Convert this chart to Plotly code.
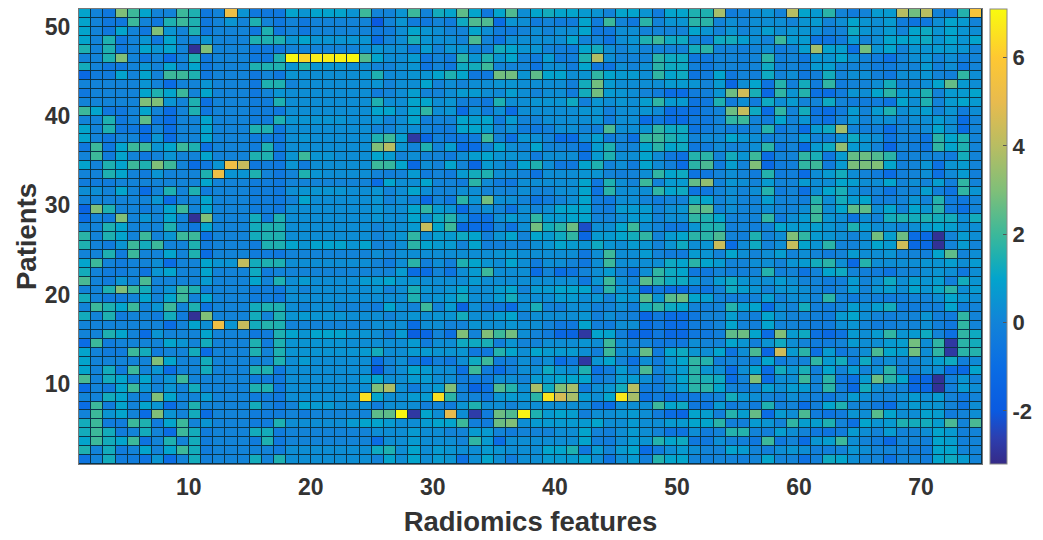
import plotly.graph_objects as go

x_edges = list(range(1, 76))
y_edges = list(range(1, 53))
x_ticks = [10, 20, 30, 40, 50, 60, 70]
y_ticks = [10, 20, 30, 40, 50]
cbar_ticks = [-2, 0, 2, 4, 6]
cbar_labels = ["-2", "0", "2", "4", "6"]
z_min, z_max = -3.2, 7.1
color_levels = [-3.2, -2.6, -2, -1, -.5, 0, 1, 1.5, 2, 3, 4, 5, 6, 7.1]
color_hexes = ["#352a87", "#2c3fb0", "#0a5ae0", "#0a6de4", "#0f78de", "#1283d8", "#03a4cc", "#1eb0b0",
               "#3cb89a", "#80bf78", "#b8bd62", "#e8bb4e", "#fec832", "#f9fb0e"]

p51 = [1,0,-.5,3,2,1,0,0,2,1.5,-.5,0,5.3,.5,-.5,-.5,-.5,1,.5,1,1,1,.5,2,0,
       0,.5,2,0,1.3,1,2.5,1,-.5,1,2.3,.3,1,1.3,1,1,.7,.5,0,1,1,.5,-.3,1,1,1.5,
       1.5,3.7,-.3,0,.3,.5,0,4,1,.7,1.7,0,-.3,0,.7,.7,4,2.8,4,0,-.3,1.6,5.7]
p50 = [1,0,-.5,-.5,2,0,-.5,1.5,2,1.5,-.5,0,.5,0,1.5,0,-.5,0,-.5,0,0,0,0,0,-2,
       0,.5,-.3,-.5,0,-.3,1.2,2.3,2.3,-1,.5,.3,-.3,0,-.3,-.3,1,-.3,2,0,-.5,1.7,0,.5,.5,1.7,
       1.7,0,.3,0,.3,.3,.3,0,.5,.7,0,.3,1,.5,.3,.7,-.3,-.7,-.5,.3,1,.7,0]
p49 = [1,0,-.5,1,0,-.5,3,.5,0,1.5,-.5,0,0,0,-.5,1.5,-.5,0,-.5,0,0,0,0,0,-.5,
       -.3,.3,1,.5,.3,0,0,1,.3,-.3,-.3,0,.3,0,.3,.3,1,-.5,-.5,.3,.3,0,0,0,0,1,
       .5,0,.5,0,.3,.8,.3,.5,.5,.3,-.2,0,1.2,.5,.3,.7,0,1,1.2,.5,1,.5,.3]
p48 = [1,0,1.5,-.5,0,.5,-.5,1,0,0,.5,0,0,0,1.5,1.5,1.5,.5,1,.5,.5,.5,.5,.5,-1,
       0,.3,1.4,.5,.3,.3,0,2.2,0,-.7,.3,.3,.3,.3,.3,1,0,0,-.7,.3,.5,1.5,2,1.2,1.2,0,
       -.3,1.2,1.3,.8,.3,0,2,.7,.7,-.7,-.7,-.3,.7,0,.3,1,1,1,1.2,.5,1,.5,1]
p47 = [1.5,0,1.5,-.5,0,1,.5,1,0,-3,3,0,0,0,-.5,-.5,-.5,0,0,0,0,0,0,.3,.5,
       .3,.3,-.3,.7,0,.5,.5,-.2,-.2,1.3,1,.5,.5,0,-.2,-.3,1,1.3,.3,0,.3,0,0,0,0,1.3,
       1.7,0,0,-.2,0,.3,-.3,0,.8,3.6,.9,.8,-.8,2.8,.5,1,0,.5,.5,.7,.7,.5,0]
p46 = [0,0,1.5,3,0,-.5,0,-1,0,1.5,-.5,0,0,0,-.5,-.5,1.5,7,6.3,6.8,6.8,6.9,7,2.3,1,
       .3,.3,.7,-.5,0,-.3,1.7,.5,1.5,.5,1,0,-.3,.7,-.3,-.2,1.5,3.9,.3,0,0,0,1.7,1.2,1.2,-.5,
       -.5,0,0,-.2,0,1.7,-.2,0,-.5,.5,.5,1,.3,0,-.3,-.8,0,.3,.5,0,.3,-.2,0]
p45 = [1.3,0,-.5,-.5,0,.5,0,1,0,1,-.5,0,0,0,1.5,1.5,1.5,.5,1.5,.5,.5,.5,.3,.3,0,
       0,.3,.5,-.7,0,-.5,1.2,1.3,2,0,0,0,-.7,.3,.3,-.3,1,-.5,-.7,.3,0,.3,1.7,1.2,1.2,-.2,
       -.5,0,0,-.2,0,1.2,-.2,0,-.3,.7,.8,0,0,0,-.3,-.3,0,0,.7,-.2,.3,-.6,0]
p44 = [-1.2,-.3,-.3,1,0,1,0,2,2,1.5,-.5,0,0,0,-.5,0,-.5,.5,.3,.3,.3,.3,.3,.5,1.5,
       .2,.3,.5,.5,1,1.5,1,-.5,-.5,2.8,2.8,.5,2.5,1,1,.3,.5,1.8,1,.7,.7,.3,1.8,1,1.2,-.7,
       -.3,1,-.5,0,-.2,1.2,0,.3,-.5,-.2,1.3,0,.3,.3,-.2,-.5,.3,.3,.5,0,-.2,1.8,.3]
p43 = [0,0,0,0,0,.5,0,-1,0,0,.5,0,0,0,-.5,1.5,1.5,0,.3,.3,.3,.3,.3,.3,.5,
       0,.3,.3,1,0,.3,0,.3,.3,.5,.5,.3,.3,.3,.3,-.2,1.3,2.8,.7,.3,.3,.3,.3,.7,.7,.5,
       0,.7,-1.3,.3,1,-.7,1.6,-.2,1.3,-.3,1.8,-.3,0,0,.3,1.3,0,0,.3,1,2.6,.7,.3]
p42 = [-.5,0,0,0,0,1,1.5,1,2,0,1,0,0,0,-.5,0,.5,.3,.3,.3,.3,.3,.3,.3,-.3,
       0,.3,.8,0,0,.3,.7,.7,.3,.2,.8,.3,0,.3,.3,-.3,1.3,2.8,.7,.5,.3,0,-.3,-1,-1,-.3,
       -.2,.5,2.7,4.5,1.4,-1.2,1.8,.5,1.6,-.8,-1,-.3,.5,.3,1,1.7,.7,.7,1.5,0,.7,.7,1]
p41 = [0,0,0,0,0,3,3,.5,0,1.5,-.8,0,0,0,-.3,-.3,1.5,.3,.3,.3,.3,.3,.3,.3,1.5,
       .3,.3,1,1,.3,.5,-.2,-.2,-.5,1.5,.3,.3,.5,.5,.5,1.2,-.2,.5,.3,.5,.3,.8,1.8,.7,.7,-.7,
       -.5,1.5,-.3,.3,-.3,1.2,.3,.7,0,0,1.2,0,-.3,-.3,-.3,-.7,1,.3,1.5,0,.7,1,.7]
p40 = [2,1,-.5,-.5,0,1,0,-1,0,1.5,-.5,0,0,0,-.3,-.3,-.5,.3,.3,.3,.3,.3,.3,.3,1,
       1,.3,1,1.8,.3,.5,-1,.3,-.3,.3,-1,.3,.3,.3,.3,.3,.5,.5,-.2,.3,.3,.5,.2,-1,-.8,-.8,
       -.3,0,2.7,4.3,1.2,-1,1.8,0,1.3,-.7,-1,-.3,.7,0,.7,1.5,.3,.5,.8,0,.5,-.3,.3]
p39 = [0,0,1.5,-.5,0,2.5,-.5,-1,0,0,1,0,0,0,-.3,-.3,1.5,.5,.5,.5,.5,.5,.3,.3,.5,
       0,.3,1,-.2,0,0,1,.8,1,-.3,.7,0,0,.3,.3,.3,.3,.5,-.3,.3,.3,-1,-.5,-1,-1,-.5,
       -.5,0,1.8,2,0,-.3,1,0,.5,-.5,-.8,0,.5,0,.3,.3,0,.3,.3,.7,.3,-1,0]
p38 = [1,0,1.5,-.5,-.5,-1,0,-1,0,0,1,0,0,0,1.5,1.5,-.5,.3,.3,.3,.3,.3,.3,.3,0,
       0,.3,.3,0,-.3,-.3,1,1,.8,0,.3,-.3,-.5,-.2,.3,.3,0,-.2,2.2,.3,.3,.5,1.8,1.2,1.2,-.7,
       -.3,0,-.2,-.2,0,1.6,-.5,0,-1,.7,1.2,3.6,0,-.2,-.2,-1,0,0,.2,1,.3,-1,0]
p37 = [1,0,-.5,0,0,-1,.5,-1,0,0,1,0,0,0,-.3,-.3,-.5,.3,.5,.3,.3,.3,.3,.3,1.5,
       2,.8,-2.8,-1.3,-.2,-.5,-.5,-.3,2,0,-.8,.5,.3,0,-1,-1,.3,.8,-.3,0,-.8,1.8,2,1.5,1.2,0,
       .2,.2,1,.5,.3,-.2,0,0,.7,0,-.2,.3,1.2,.5,.3,-.7,0,-.2,-.7,1.7,1,1.5,0]
p36 = [-.5,2,-.5,1,2,2,.5,1,2,1.5,-.8,0,0,0,-.3,1.5,-.5,.3,.3,.3,.3,.3,.3,.3,3,
       4,.5,0,1.5,0,.8,-1,-1,0,1,.3,0,1,0,0,-.2,-.8,.8,1.5,0,0,1,1.7,1,1.2,-.5,
       -.3,.2,0,0,.3,1.7,-.5,0,-1.2,.7,1.2,3.3,.7,.5,0,-1.3,0,-.3,-.7,1.8,1,1.5,0]
p35 = [0,2,-.3,1,0,-.5,0,.5,0,0,1,0,0,0,1.5,1.5,-.5,.5,2,.5,.5,.3,.3,.3,1,
       .7,0,.3,0,0,-.3,.3,.8,1,.5,.5,.3,-.3,.3,.3,.3,-.8,.7,1.5,.3,.3,1,.2,-.5,-.8,1.6,
       1.7,0,1.3,.5,2,-1,0,0,1.8,1.4,-.5,.7,2.6,2.7,2.3,1.7,-.2,0,0,0,-.3,1.3,0]
p34 = [1,0,1.5,1,2,1.5,3,2,0,-1,-.5,.5,5.3,4.3,-.5,-.3,-.5,.5,-.3,.3,.3,.3,.3,.3,2,
       1.9,1,-1.2,.3,0,1,0,-1.3,.7,.3,-.2,1,1.5,.3,-.5,-.5,1,1.5,0,.3,-.3,1,.2,-.2,-1,1.7,
       2.2,-.3,.8,0,3,-1.2,-.3,-.2,1.8,2,-.3,.7,2.9,2.9,3,1,-.2,0,.5,-.8,.5,.7,0]
p33 = [0,0,1.5,1,0,-.3,.5,0,0,0,1.5,5.3,.5,.5,1.5,0,-.5,0,1.5,.5,.3,.3,.3,.3,0,
       -.2,0,.7,-.3,0,-.3,.7,1.3,1.5,.3,.3,0,-.7,.3,.3,.3,.5,.5,0,-.2,0,.3,1.8,1,1.2,-.7,
       -.5,0,.3,0,-.3,1.6,-.3,-.2,-1,.3,.7,1.3,.3,0,-.3,-1,-.2,0,.3,-.8,.2,.7,-.2]
p32 = [-.3,-.3,-.3,0,0,0,0,0,0,0,1,0,0,0,-.3,-.3,-.5,0,0,0,0,0,0,0,-1,
       1,.3,.3,1,0,0,-.3,1.7,.2,-.3,-.5,.3,.3,.3,.3,.3,1,-.5,1.5,.3,0,2,0,.7,.7,2.6,
       3.3,0,.5,.3,0,.7,0,0,.7,.3,.3,1,.8,.3,.3,1,0,.3,0,.8,-.2,1.8,0]
p31 = [.3,.3,0,1,0,-1,0,1.5,0,1.5,-.3,0,0,0,-.3,-.3,-.5,.3,.5,.5,.5,.5,.3,.3,.5,
       0,.3,1,.3,0,0,.3,.3,0,0,0,.3,0,0,.3,.3,1,-.7,1.7,.3,.3,.3,1.8,1,1.2,-.7,
       -.5,0,.3,0,.3,1.6,-.3,0,-.8,.3,1,1.4,.3,0,0,-.7,0,0,.8,-.2,-.7,1.8,.5]
p30 = [0,0,0,0,0,0,.5,-1,0,0,1,0,0,0,-.3,-.3,-.5,0,1,.3,.3,.3,.3,.3,.5,
       0,.3,0,-1.2,0,-.5,1.7,.5,2.8,.3,.3,0,-.7,-.3,0,.3,1,-.3,-.5,.3,.3,0,-.3,0,0,1.3,
       1,0,.3,0,0,.8,0,0,-.2,1.6,.3,1.3,.7,1,-.2,-.2,0,.5,0,1.6,-.3,-.5,0]
p29 = [-1.5,3,1.5,0,0,-.3,0,1,2,0,1,0,0,0,-.3,-.3,-.5,.3,.3,.3,.3,.3,.3,.3,.5,
       .3,.3,1,1.8,.7,.5,-1,0,.3,0,-.7,.3,0,.3,1,1,1,-.2,-.3,.7,.7,.7,0,.3,.5,2.4,
       2.5,0,.3,0,0,.3,0,0,.3,2,.3,1,2.5,2.5,.3,1,0,1,.5,1.7,-.3,-.8,0]
p28 = [-1,0,-.3,3,0,.5,0,1,0,-3,3,0,0,0,1.3,-.3,1.5,.3,.3,.3,.3,.3,.3,.3,.5,
       .3,.3,1,.3,1.2,1.6,.3,-.8,-.8,.3,.7,.3,1.8,.7,.7,1,1,0,0,.3,.7,.7,0,.3,.3,1.8,
       1.5,1,0,0,0,1.8,-.3,.3,.7,2,.5,.3,-.7,.3,0,1.3,1.5,1.3,1.5,1.3,1.3,.3,1.3]
p27 = [0,0,1.5,1,0,0,0,1.5,0,-.5,1,0,0,0,1.3,1.5,1.5,.3,.3,.3,.3,.3,.3,.3,0,
       .3,.3,.7,4.3,1,2,-1.2,-1,-1.1,0,-.7,.3,2.8,1.3,1.7,2.7,-2.3,.3,.3,1,2,.3,0,-.5,-.5,.5,
       1.5,1.5,-.2,0,-.2,0,1,.7,.7,.8,.5,.3,1.5,.7,.3,.3,0,.3,.7,1,.8,.3,.3]
p26 = [1.7,0,1.5,1,0,2,0,.5,2,2,-.8,0,0,0,1.3,1.5,1.5,.3,.3,.3,.3,.3,.3,.3,0,
       .3,.5,1.8,.3,.8,.7,1.2,1,-.2,.5,1,0,1,.7,1.2,1.8,-1.3,.7,.7,1,1.3,1.8,0,.7,1,1.7,
       1.7,2.2,0,-.2,1.5,0,.3,3,1.8,.7,.5,.3,0,.3,2.8,.8,2.7,-1,-1.2,-3,0,.7,.3]
p25 = [1.5,0,-.3,.5,2,1.3,2,0,0,1.5,-.3,0,0,0,-.3,1.5,1.5,1,.5,1,1,1,.5,1,0,
       0,.3,1.7,1,.7,.7,0,1,-.2,-.2,0,-.2,.3,.5,1,.7,.5,1.2,.5,.3,.7,.5,0,.5,1.2,.3,
       .5,4.4,-1,.2,1.2,0,.3,4.3,1,.5,1.7,0,0,.3,1,.7,4.5,-1.2,-1.2,-3,0,.7,0]
p24 = [0,0,1.5,-.3,2,0,0,1,0,1.5,-1,0,0,0,-.3,-.3,-.5,0,0,0,0,0,0,0,.3,
       0,.3,.3,.3,.3,.3,.3,.3,.3,.5,.7,.3,.3,.3,.3,.3,-.5,.3,2,.3,.3,.7,0,-.3,-.3,.7,
       .5,0,1,.3,0,.3,.8,0,.3,0,-.3,0,.7,.3,.3,.5,0,0,-.2,1,2.5,0,.3]
p23 = [1,2,0,-.3,0,0,.3,-1,0,0,1,.5,.5,4.2,1.3,1.5,1.5,.3,.3,.3,.3,.3,.3,.3,0,
       -.3,.3,1.7,-.2,.3,-.2,1.5,1,.5,.3,1,.3,-.3,.3,.3,0,-.5,.3,2,.3,.3,.3,.3,1.2,1,1.7,
       1,.7,0,0,.3,.3,0,.5,.7,1.3,1.7,.3,-1.2,1.6,.3,.3,.3,.3,.5,.5,.8,.3,.7]
p22 = [1.3,0,-.3,-.3,0,-.7,.5,1,0,0,1,0,0,0,1.2,-.3,0,0,0,0,0,0,0,0,0,
       0,.7,-1,-1,0,-.7,.3,.7,2,.3,.3,.3,-1,0,-1,-.7,0,.3,.7,0,-.7,.3,1.8,1.2,1,-.5,
       -.5,0,-.2,-.2,0,1.6,-.2,0,-.7,0,1,1.2,0,-.2,-.3,-.7,0,0,.3,.5,.3,-.5,.3]
p21 = [2.2,0,-.3,.5,0,2.2,0,0,0,0,.7,0,0,0,1,0,1.5,.3,.7,.3,.3,.3,.3,.7,.7,
       1,.5,.5,.3,.3,.3,.3,.7,.3,.3,.3,.3,.3,.3,.3,.3,-.5,.5,2,.3,0,2.4,1.8,1.2,1.2,.5,
       0,.7,1.2,.5,.3,.3,.7,.3,0,0,-.3,-.2,.7,0,.3,1.2,.3,.8,.5,.8,-.2,1.3,.5]
p20 = [0,0,1.5,3,2,1.3,0,.5,2,1.5,-.2,0,0,0,-.3,-.3,-.5,.3,0,.3,.3,.3,.3,.3,.5,
       0,.3,1.4,.5,.3,.5,1,.3,.3,.7,1,0,.7,.7,1,1,1,0,1.7,.5,.5,-1.5,-.5,-1,-1,-.5,
       -.7,0,1.2,.8,.5,0,.5,.5,.3,0,-.3,0,.7,0,.5,.8,.3,1,.5,1.1,1.7,.3,.7]
p19 = [1.3,0,-.3,-.3,0,1,0,1,2,0,1,0,0,0,-.3,-.3,-.5,.3,.3,.3,.3,.3,.3,.3,.3,
       .3,.3,1.5,.3,.5,.7,1.3,.3,.3,.7,1.3,.3,.3,.3,.7,.7,.3,.5,0,.7,.5,2.4,.5,2.4,2.7,1,
       .8,0,-.2,-.2,0,.8,0,.3,.3,0,1.7,0,-.3,0,-.2,-.3,-.2,0,0,.3,1,.5,.3]
p18 = [0,2,1.5,1,2,0,.5,2,0,1.5,-.7,0,0,0,1.3,1.5,1.5,.3,0,.3,.3,0,0,0,-.3,
       1,.3,0,2,0,.7,-1.5,.3,-.3,-.5,-1,.3,1.4,0,-.2,.3,.3,-.2,0,.3,-.2,1.3,1.8,1.2,1,0,
       -.2,0,1.6,.8,1,-1,.3,0,1.3,-.2,-.3,0,.8,.3,.8,1.3,-.3,-.3,-.2,-.2,1,-.2,0]
p17 = [1.3,0,1.5,-.3,0,0,-.3,1.3,-.3,-3,3,0,0,0,1.3,0,1.5,.5,.7,.5,.5,.5,.3,.3,.3,
       0,.3,.5,.3,.5,.5,1.3,.3,.3,.7,1,0,.3,.3,.3,.3,.5,-.2,.3,0,-.2,-1.3,-.5,-1,-1,-.5,
       0,0,.8,0,-.2,1,.3,0,0,-.2,-.3,.7,1,.3,0,-.2,0,0,.5,-.2,-.3,1.8,0]
p16 = [0,0,0,0,0,0,0,-1,0,1,.3,5.3,.5,4.3,1.3,1.6,1.5,0,0,0,0,0,0,0,.3,
       .3,.3,-1,.3,.3,0,0,.5,.3,.3,.5,.3,.3,0,-.5,-.5,1,-.2,-.3,.3,.3,-1,-.5,-1,-1,-.3,
       -.3,0,1,0,-.2,1,0,0,-.2,-.3,-.3,.3,.5,0,-.3,-.2,0,0,.3,-.2,-.5,1.8,0]
p15 = [0,0,1.5,1,0,-1,.5,0,0,0,1,0,0,0,-.5,-.3,1.5,1,.5,1,1,1,.5,.5,.3,
       -.3,.7,-1.7,-1.3,0,-.8,3,0,3,2,2.8,.3,0,-.3,-1.3,-1.4,-2.8,1,1,-.2,-1.3,-1.3,-.5,-1.2,-1.2,-.5,
       -.5,-.2,2.5,2.7,1,-1,3,.7,1.2,-.8,-1.2,-.7,.7,.3,.7,1.8,.5,.7,1.2,0,-.8,1.8,1.2]
p14 = [-1,2,-.3,0,0,0,0,1,.5,0,1.3,0,0,0,1.5,-.3,1.5,.5,.5,.5,.5,.5,.3,.3,.3,
       .3,.3,.7,-.3,.3,.3,1.2,1.2,1.4,-.2,.5,0,0,.3,.3,.3,.5,.3,2,.3,0,0,-.5,-.5,-.5,.3,
       0,0,1,.5,-.2,.5,1.2,.3,0,-.3,-.3,0,.7,.3,.3,.7,.8,2.8,.3,1.8,-2.8,1.7,1.3]
p13 = [1,0,-.3,-.3,2,1.3,-.3,0,0,1.3,-1,0,0,0,1.5,0,1.5,.5,.5,.5,.5,.5,.5,.7,1.3,
       .3,.3,.7,.7,.5,.5,.5,-.5,-.5,1.6,1,.3,1,.7,.7,.7,.3,-.2,2,.3,.3,2.6,-.3,1,1.2,.5,
       .3,1,-.7,.3,2.2,-1.3,4.5,.7,1.7,-.8,.7,-.5,0,.3,2.2,1,.8,2.8,.3,1.8,-2.8,1.7,1.6]
p12 = [1,0,0,0,0,0,3,1,0,0,1.3,0,0,0,0,0,1.5,.3,.7,.3,.3,.3,.3,.3,-1,
       0,.3,-.5,-1,-.2,-.5,.3,1.2,2,-.3,-.2,.3,0,.3,-1,-.5,-2.8,.5,1,0,-.8,.3,-.3,.5,1,1.8,
       1.6,-.2,0,0,-.2,1,-.3,0,0,1.8,.7,1.3,-.3,1.2,0,.3,0,0,.3,.8,1.2,-.2,.2]
p11 = [1,0,1.3,-.3,2,0,.5,-1,0,0,1.3,0,0,0,1.5,1.5,-.5,.3,.3,.3,.3,.3,.3,.3,-2,
       0,.3,1,.7,.3,.3,-.8,2,-.3,-1,-.2,.3,.3,1.2,.5,.3,1.5,-.8,-.3,.7,0,2.2,0,.5,.7,1.7,
       .5,.3,-1,.3,1,-1,1.3,.5,1.4,-.2,1,0,.7,0,.3,1.7,0,0,.3,.3,-1,-1.2,1]
p10 = [2.2,0,1.3,1,0,1,0,.5,2,0,0,0,0,0,-.3,-.3,-.5,.3,.3,.3,.3,.3,.3,.7,1,
       .3,.3,.7,.7,.3,.3,-.3,-.3,-.5,.3,.3,0,.7,.7,1,1,1,-.3,0,.7,.7,.3,-.3,.3,1,1.7,
       1.4,1.2,-1,0,3,-1,.3,.3,2,0,1.7,-.5,-.8,.7,2.7,1.7,1,-1.3,-1.3,-3,-.2,.5,0]
p09 = [-1,0,-.3,1,2,.5,0,.5,0,1.3,0,0,0,0,1.5,1.5,-.5,.3,.3,.3,.3,.3,.3,.3,3,
       3.8,.3,-.3,.3,.7,3,-.2,-1.5,-.8,2.3,1.6,.3,3.7,1.2,3,3.7,-.3,.3,.5,1.3,4,-.3,-.3,.3,.7,1.7,
       1.7,1,0,-.2,0,.8,.3,.7,.7,0,1.7,-.2,-1.2,1.3,.3,0,0,-1.3,-1.3,-3,-.2,.7,.3]
p08 = [0,0,1.3,1,0,-.3,3,1,0,0,.7,0,0,0,-.3,-.3,-.5,.3,.3,.3,.3,.3,.3,6.5,1,
       .3,.3,.7,.7,6.5,1.7,0,0,-.5,.5,.7,.5,1.7,6.6,4.6,3.7,.7,.3,1,6.7,3.7,-.8,-.3,-.8,-.5,-.5,
       -.3,0,1.3,.5,.3,0,-.2,.3,0,-.2,-.5,0,.7,.3,0,0,.3,.7,.3,.7,0,-.5,0]
p07 = [-1,2,-.3,1,0,1,.5,-1,0,1.5,0,0,0,0,1.3,0,-.5,0,1,.7,.7,.3,.3,.3,-.3,
       .3,.3,.3,-.2,0,-.3,.5,1.5,.3,.3,0,.3,.3,.3,.3,.3,.3,-.7,-1,.3,.3,.3,2,1,1.2,-.5,
       -.7,.7,-.3,0,-.3,1.5,-.2,0,-1,-.2,1,1.5,0,0,-.5,-1,.3,.7,.5,.5,0,-.7,.3]
p06 = [0,2,.5,1,0,-1,3,.5,0,1.3,-1,0,0,0,-.3,-.3,-.3,0,-.3,0,0,0,0,0,2.5,
       2.5,7,-2.8,1,.3,5,.3,-2.7,-.3,2.7,2.3,6.9,1.5,.7,1,.8,-.2,.3,.3,.5,.7,.3,-.3,-1,-1.3,1,
       .8,-.2,1.6,.8,2.6,-1,.7,.3,2.2,-.3,-.7,-.3,.5,.3,2.4,1,.3,.3,.9,.8,-.3,0,.3]
p05 = [1.3,2,-.3,-.3,2,1.5,-.3,1,2,0,.5,0,0,0,-.3,-.3,1.5,.3,.3,.3,.3,.3,.7,1,1,
       .7,.3,.3,.7,1,1,2,-.2,-.3,2.7,3,.3,.7,.7,.7,.7,.7,1,.3,.3,.7,.3,.3,.7,.7,1,
       1,1.7,-.2,-.2,.7,.5,0,1.8,.8,.8,1.5,0,-.8,1,.5,.7,1.5,1.3,1.3,.8,2.2,0,2.2]
p04 = [1.3,2,1.3,-.3,0,1.3,0,-1,2,1.3,-.3,0,0,0,1.3,1.3,-.3,0,0,0,0,0,0,0,.3,
       .3,.3,.7,.3,.3,0,0,.7,.7,0,-.3,0,0,0,.3,.3,1,0,-.2,.3,.7,.3,0,-.7,-.7,.3,
       -.3,0,1.6,1.6,0,-.2,.8,.3,0,-.5,-.7,-.3,.7,.3,0,.7,0,0,.3,1,.7,-.2,0]
p03 = [1,2,1.3,1,2,-.7,0,1.5,0,1.3,-.3,0,0,0,-.3,1.5,-.5,0,0,0,0,0,0,0,-1,
       .3,.3,.7,.3,.3,.3,0,1.8,.7,-1,.3,.3,.3,.3,.3,.3,1,-.2,-.3,.3,.7,.5,1.6,1,1.2,-.5,
       -.5,.3,0,-.2,-.5,2,-.5,0,-1,.5,.8,2,.3,0,-.3,-1.2,0,0,-.2,1,.8,-.2,0]
p02 = [1.5,0,1.3,-.3,0,1,0,1,2,1.3,-.3,0,0,0,0,0,-.3,.3,.3,.3,.3,.3,.3,.3,1.2,
       1.5,.3,1,.3,.7,.5,.3,.3,.7,.5,.3,.3,.3,1,1,1.5,-.5,.7,0,.7,1,-1,-.3,.3,.7,.3,
       0,0,1,.7,0,-.2,.3,.5,.3,-.2,-.2,0,.5,.3,0,0,0,-.3,-.3,1,1,0,0]
p01 = [-.7,0,1.3,-.3,-.3,-.7,.5,-1,0,1.3,-.2,0,0,0,1.3,0,1.5,.3,.3,.3,.3,.3,.3,.3,0,
       1,.3,1,.3,.7,.5,-.8,.3,1,.3,-.3,.3,.3,.7,.7,.7,1,.3,-.7,.3,.7,-.2,1.6,1,1,0,
       -.2,0,0,-.2,0,1,0,0,-.8,-.2,1.2,1,.3,0,0,-.8,0,0,-.3,1,1.2,.7,0]

rows = [p01, p02, p03, p04, p05, p06, p07, p08, p09, p10, p11, p12, p13, p14, p15, p16, p17,
        p18, p19, p20, p21, p22, p23, p24, p25, p26, p27, p28, p29, p30, p31, p32, p33, p34,
        p35, p36, p37, p38, p39, p40, p41, p42, p43, p44, p45, p46, p47, p48, p49, p50, p51]
for i, r in enumerate(rows):
    assert len(r) == 74, (i + 1, len(r))

text_color = "#333333"
font_family = "Liberation Sans, Arial, sans-serif"
scale = [[(v - z_min) / (z_max - z_min), c] for v, c in zip(color_levels, color_hexes)]

fig = go.Figure(go.Heatmap(
    x=x_edges, y=y_edges, z=rows,
    zmin=z_min, zmax=z_max, xgap=1, ygap=1,
    colorscale=scale,
    hoverongaps=False,
    colorbar=dict(
        x=1.0088, xanchor="left", xpad=0, y=0, yanchor="bottom", ypad=0, len=1, lenmode="fraction",
        thickness=17, thicknessmode="pixels", outlinecolor="#888888", outlinewidth=1,
        tickmode="array", tickvals=cbar_ticks, ticktext=cbar_labels,
        ticks="inside", ticklen=4, tickcolor="#555555",
        tickfont=dict(family=font_family, size=22, color=text_color, weight="bold"),
    ),
))
fig.update_layout(
    width=1043, height=540, autosize=False,
    margin=dict(l=79, r=61, t=9, b=76, autoexpand=False),
    paper_bgcolor="white", plot_bgcolor="#0a3348",
    font=dict(family=font_family, color=text_color),
)
fig.update_xaxes(
    range=[1, 75], tickvals=x_ticks, ticks="outside", ticklen=2, tickcolor="rgba(0,0,0,0)",
    showgrid=False, zeroline=False,
    showline=True, linecolor="#777777", linewidth=1, mirror=True,
    tickfont=dict(family=font_family, size=23, color=text_color, weight="bold"),
    title=dict(text="Radiomics features", standoff=13,
               font=dict(family=font_family, size=27.5, color=text_color, weight="bold")),
)
fig.update_yaxes(
    range=[1, 52], tickvals=y_ticks, ticks="outside", ticklen=3, tickcolor="rgba(0,0,0,0)",
    showgrid=False, zeroline=False,
    showline=True, linecolor="#777777", linewidth=1, mirror=True,
    tickfont=dict(family=font_family, size=23, color=text_color, weight="bold"),
    title=dict(text="Patients", standoff=0,
               font=dict(family=font_family, size=27.5, color=text_color, weight="bold")),
)
fig.write_html("out.html", config={"displayModeBar": False}, post_script="document.body.style.margin='0';")
